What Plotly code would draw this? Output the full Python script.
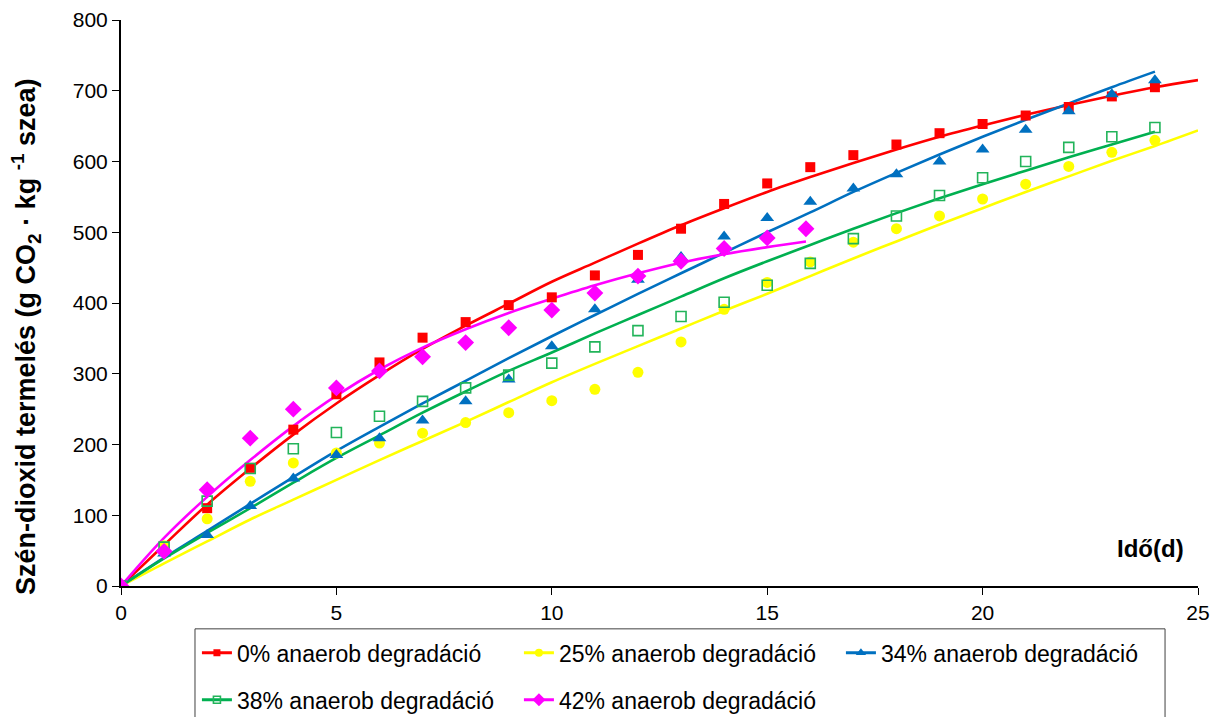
import plotly.graph_objects as go

# ---------------- data ----------------
days = list(range(25))  # 0..24
co2_0 = [0, 50, 110, 167, 221, 271, 316, 351, 373, 397, 408, 439, 468, 505, 540,
         569, 592, 609, 624, 640, 653, 665, 677, 692, 705]
co2_25 = [0, 57, 95, 148, 174, 188, 202, 216, 231, 245, 262, 278, 302, 345, 391,
          429, 458, 486, 505, 523, 547, 568, 593, 613, 630]
co2_34 = [0, 46, 72, 113, 152, 185, 209, 234, 261, 292, 339, 391, 433, 465, 494,
          520, 543, 562, 582, 600, 617, 645, 671, 695, 715]
co2_38 = [0, 55, 120, 166, 194, 217, 240, 261, 280, 298, 315, 338, 361, 381, 401,
          425, 456, 491, 523, 552, 577, 600, 620, 635, 648]
days_42 = [0, 1, 2, 3, 4, 5, 6, 7, 8, 9, 10, 11, 12, 13, 14, 15, 15.9]
co2_42 = [0, 49, 136, 209, 250, 280, 304, 324, 344, 365, 390, 414, 438, 459, 477, 492, 505]

# fitted trend curves
fit_x25 = list(range(26))  # 0..25
fit_x24 = list(range(25))  # 0..24
fit_0 = [0, 58, 115, 166, 214, 258, 298, 335, 368, 399, 430, 457, 484, 510, 534,
         557, 578, 598, 617, 635, 651, 666, 680, 693, 705, 715]
fit_25 = [0, 32, 63, 94, 122, 150, 178, 205, 232, 260, 288, 314, 339, 364, 389,
          413, 438, 463, 487, 511, 534, 557, 579, 601, 622, 644]
fit_34 = [0, 40, 78, 116, 154, 191, 225, 258, 290, 322, 353, 383, 413, 442, 471,
          500, 528, 557, 584, 610, 635, 659, 682, 705, 727]
fit_38 = [0, 39, 75, 110, 146, 181, 213, 245, 275, 304, 330, 357, 383, 409, 435,
          459, 482, 505, 527, 548, 568, 587, 606, 624, 642]
fit_x42 = [0, 1, 2, 3, 4, 5, 6, 7, 8, 9, 10, 11, 12, 13, 14, 15, 15.9]
fit_42 = [0, 68, 126, 178, 226, 269, 306, 337, 363, 386, 406, 425, 442, 457, 469, 479, 487]

names = ["0% anaerob degradáció", "25% anaerob degradáció", "34% anaerob degradáció",
         "38% anaerob degradáció", "42% anaerob degradáció"]
x_ticks = [0, 5, 10, 15, 20, 25]
y_ticks = [0, 100, 200, 300, 400, 500, 600, 700, 800]
y_title = "<b>Szén-dioxid termelés (g CO<sub>2</sub> · kg <sup>-1</sup> szea)</b>"
x_title = "<b>Idő(d)</b>"

# ---------------- styles ----------------
RED, YEL, BLU, GRN, MAG = "#FF0000", "#FFFF00", "#0070C0", "#00B050", "#FF00FF"
GRN_MK = "#22B45A"
FONT = "Liberation Sans, Arial, sans-serif"

series = [
    dict(x=days, y=co2_0, fx=fit_x25, fy=fit_0, col=RED,
         marker=dict(symbol="square", size=10, color=RED)),
    dict(x=days, y=co2_25, fx=fit_x25, fy=fit_25, col=YEL,
         marker=dict(symbol="circle", size=11, color=YEL)),
    dict(x=days, y=co2_34, fx=fit_x24, fy=fit_34, col=BLU,
         marker=dict(symbol="triangle-up", size=12, color=BLU)),
    dict(x=days, y=co2_38, fx=fit_x24, fy=fit_38, col=GRN,
         marker=dict(symbol="square-open", size=10, color=GRN_MK, line=dict(width=1.6, color=GRN_MK))),
    dict(x=days_42, y=co2_42, fx=fit_x42, fy=fit_42, col=MAG,
         marker=dict(symbol="diamond", size=13, color=MAG)),
]
legend_rows = ["legend", "legend", "legend", "legend2", "legend2"]

fig = go.Figure()

# trend curves
for s in series:
    fig.add_trace(go.Scatter(x=s["fx"], y=s["fy"], mode="lines",
                             line=dict(color=s["col"], width=2.6, shape="spline"),
                             showlegend=False, hoverinfo="skip"))
# measured points
for s, n in zip(series, names):
    fig.add_trace(go.Scatter(x=s["x"], y=s["y"], mode="markers", marker=s["marker"],
                             name=n, showlegend=False))
# legend entries (marker + line sample)
for s, n, lg in zip(series, names, legend_rows):
    m = dict(s["marker"])
    m["size"] = max(6, m["size"] - 3)
    fig.add_trace(go.Scatter(x=[None], y=[None], mode="lines+markers", name=n,
                             marker=m, line=dict(color=s["col"], width=3), legend=lg))

leg_common = dict(orientation="h", x=0.0705, xanchor="left", yanchor="middle",
                  borderwidth=0, bgcolor="rgba(0,0,0,0)", font=dict(size=23),
                  entrywidth=277, entrywidthmode="pixels", itemwidth=30)

# the page body adds an 8px offset; margins compensate
fig.update_layout(
    width=1224, height=717,
    paper_bgcolor="white", plot_bgcolor="white",
    margin=dict(l=113, r=34, t=12, b=139, autoexpand=False),
    font=dict(family=FONT, color="black", size=21),
    xaxis=dict(range=[0, 25], tickvals=x_ticks, ticks="outside", ticklen=7,
               tickcolor="black", showline=True, linecolor="black", linewidth=2,
               showgrid=False, zeroline=False, tickfont=dict(size=21), automargin=False,
               ticklabeloverflow="allow"),
    yaxis=dict(range=[0, 800], tickvals=y_ticks, ticks="outside", ticklen=7,
               tickcolor="black", showline=True, linecolor="black", linewidth=2,
               showgrid=False, zeroline=False, tickfont=dict(size=21), automargin=False,
               ticklabeloverflow="allow"),
    legend=dict(**leg_common, y=-0.118),
    legend2=dict(**leg_common, y=-0.201),
    shapes=[dict(type="rect", xref="paper", yref="paper", x0=0.0687, x1=0.9694,
                 y0=-0.0757, y1=-0.26, line=dict(color="#404040", width=1),
                 fillcolor="rgba(0,0,0,0)", layer="below")],
    annotations=[
        dict(text=x_title, x=24.72, y=53, xref="x", yref="y",
             xanchor="right", yanchor="middle", showarrow=False, font=dict(size=24)),
        dict(text=y_title, x=-0.0882, y=0.44, xref="paper", yref="paper",
             xanchor="center", yanchor="middle", textangle=-90, showarrow=False,
             font=dict(size=27)),
    ],
)

fig.write_html("out.html")
